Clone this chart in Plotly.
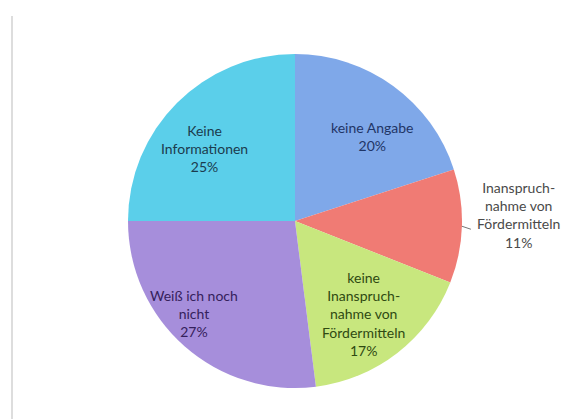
import math
import plotly.graph_objects as go

# Survey answers, clockwise from 12 o'clock
categories = [
    "keine Angabe",
    "Inanspruch-<br>nahme von<br>Fördermitteln",
    "keine<br>Inanspruch-<br>nahme von<br>Fördermitteln",
    "Weiß ich noch<br>nicht",
    "Keine<br>Informationen",
]
shares = [20, 11, 17, 27, 25]

slice_colors = ["#7FA8E9", "#F07B74", "#C8E77E", "#A68EDB", "#5BCFEA"]
text_colors = ["#1F3566", "#4A4A4A", "#2F4A12", "#35215C", "#1B3C4E"]

W, H = 568, 419
cx, cy, R = 295, 221, 167  # pie centre and radius in pixels

# label block centres in pixels (x, y from top)
label_pos = [(372, 136), (518, 215), (363, 314), (194, 313), (204, 148)]

fig = go.Figure(
    go.Pie(
        labels=[c.replace("<br>", " ") for c in categories],
        values=shares,
        sort=False,
        direction="clockwise",
        rotation=0,
        marker=dict(colors=slice_colors, line=dict(width=0)),
        textinfo="none",
        hoverinfo="label+percent",
        domain=dict(x=[(cx - R) / W, (cx + R) / W],
                    y=[(H - cy - R) / H, (H - cy + R) / H]),
        showlegend=False,
    )
)

total = sum(shares)
annotations = []
for i, (cat, v) in enumerate(zip(categories, shares)):
    pct = round(v / total * 100)
    px, py = label_pos[i]
    annotations.append(dict(
        x=px / W, y=1 - py / H, xref="paper", yref="paper",
        text=f"{cat}<br>{pct}%", showarrow=False,
        xanchor="center", yanchor="middle", align="center",
        font=dict(family="Lato", size=14, color=text_colors[i]),
    ))

# short leader line towards the outside label
mid_out = (shares[0] + shares[1] / 2) / total * 2 * math.pi
x0 = cx + R * math.sin(mid_out)
y0 = cy - R * math.cos(mid_out)
shapes = [
    dict(type="line", xref="paper", yref="paper",
         x0=x0 / W, y0=1 - y0 / H, x1=(x0 + 9) / W, y1=1 - (y0 + 3) / H,
         line=dict(color="#777777", width=1)),
    # plot-area edge on the left
    dict(type="line", xref="paper", yref="paper",
         x0=12 / W, x1=12 / W, y0=0, y1=1 - 16 / H,
         line=dict(color="#DDDDDD", width=2)),
]

fig.update_layout(
    width=W, height=H,
    margin=dict(l=0, r=0, t=0, b=0),
    paper_bgcolor="white",
    plot_bgcolor="white",
    annotations=annotations,
    shapes=shapes,
)

fig.write_html("out.html")
